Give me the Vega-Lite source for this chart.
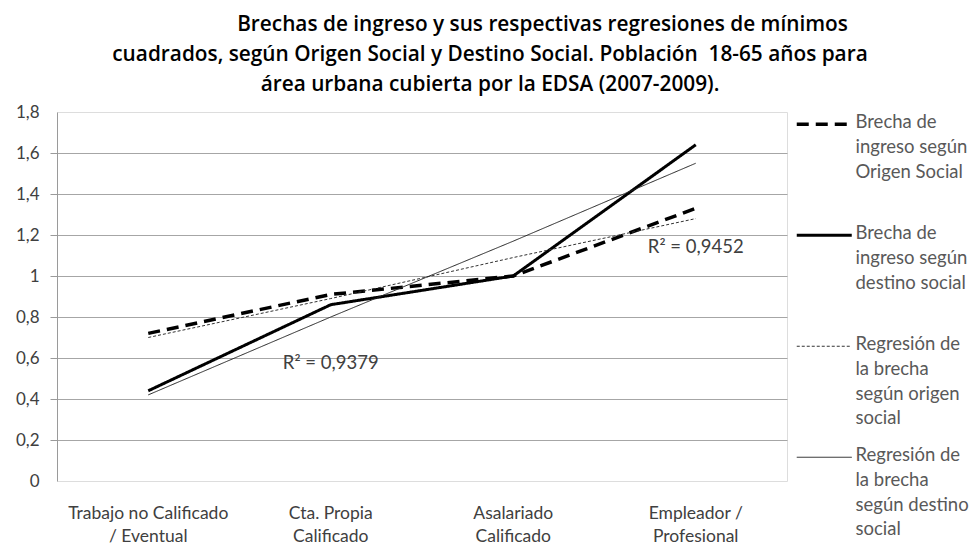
{
  "$schema": "https://vega.github.io/schema/vega-lite/v6.json",
  "width": 730,
  "height": 369,
  "autosize": {"type": "none"},
  "padding": {"left": 57, "top": 112, "right": 185, "bottom": 64},
  "background": "white",
  "title": {
    "text": [
      "\u2800\u2800\u2800\u2800\u2800\u2800\u2800Brechas de ingreso y sus respectivas regresiones de mínimos",
      "cuadrados, según Origen Social y Destino Social. Población\u00a0 18-65 años para",
      "área urbana cubierta por la EDSA (2007-2009)."
    ],
    "font": "Open Sans",
    "fontSize": 20.8,
    "fontWeight": 600,
    "color": "#000000",
    "lineHeight": 30,
    "anchor": "middle",
    "dx": 68,
    "offset": 7
  },
  "datasets": {
    "series": [
      {"categoria": "Trabajo no Calificado / Eventual", "serie": "Brecha de ingreso según Origen Social", "valor": 0.72},
      {"categoria": "Cta. Propia Calificado", "serie": "Brecha de ingreso según Origen Social", "valor": 0.91},
      {"categoria": "Asalariado Calificado", "serie": "Brecha de ingreso según Origen Social", "valor": 1.0},
      {"categoria": "Empleador / Profesional", "serie": "Brecha de ingreso según Origen Social", "valor": 1.33},
      {"categoria": "Trabajo no Calificado / Eventual", "serie": "Brecha de ingreso según destino social", "valor": 0.44},
      {"categoria": "Cta. Propia Calificado", "serie": "Brecha de ingreso según destino social", "valor": 0.86},
      {"categoria": "Asalariado Calificado", "serie": "Brecha de ingreso según destino social", "valor": 1.0},
      {"categoria": "Empleador / Profesional", "serie": "Brecha de ingreso según destino social", "valor": 1.64},
      {"categoria": "Trabajo no Calificado / Eventual", "serie": "Regresión de la brecha según origen social", "valor": 0.70},
      {"categoria": "Cta. Propia Calificado", "serie": "Regresión de la brecha según origen social", "valor": 0.89},
      {"categoria": "Asalariado Calificado", "serie": "Regresión de la brecha según origen social", "valor": 1.09},
      {"categoria": "Empleador / Profesional", "serie": "Regresión de la brecha según origen social", "valor": 1.28},
      {"categoria": "Trabajo no Calificado / Eventual", "serie": "Regresión de la brecha según destino social", "valor": 0.42},
      {"categoria": "Cta. Propia Calificado", "serie": "Regresión de la brecha según destino social", "valor": 0.80},
      {"categoria": "Asalariado Calificado", "serie": "Regresión de la brecha según destino social", "valor": 1.17},
      {"categoria": "Empleador / Profesional", "serie": "Regresión de la brecha según destino social", "valor": 1.55}
    ],
    "r2": [
      {"categoria": "Cta. Propia Calificado", "valor": 0.575, "texto": "R² = 0,9379"},
      {"categoria": "Empleador / Profesional", "valor": 1.14, "texto": "R² = 0,9452"}
    ]
  },
  "encoding": {
    "x": {
      "field": "categoria",
      "type": "nominal",
      "sort": ["Trabajo no Calificado / Eventual", "Cta. Propia Calificado", "Asalariado Calificado", "Empleador / Profesional"],
      "scale": {"type": "band", "paddingInner": 0, "paddingOuter": 0},
      "axis": {
        "title": null,
        "domain": false,
        "ticks": false,
        "grid": false,
        "labelAngle": 0,
        "labelFont": "Lato",
        "labelFontSize": 17.5,
        "labelColor": "#404040",
        "labelPadding": 23,
        "labelBaseline": "top",
        "labelLineHeight": 23,
        "labelLimit": 0,
        "labelExpr": "datum.label == 'Trabajo no Calificado / Eventual' ? ['Trabajo no Calificado', '/ Eventual'] : datum.label == 'Cta. Propia Calificado' ? ['Cta. Propia', 'Calificado'] : datum.label == 'Asalariado Calificado' ? ['Asalariado', 'Calificado'] : ['Empleador /', 'Profesional']"
      }
    },
    "y": {
      "field": "valor",
      "type": "quantitative",
      "scale": {"domain": [0, 1.8], "nice": false, "zero": true},
      "axis": {
        "title": null,
        "values": [0, 0.2, 0.4, 0.6, 0.8, 1, 1.2, 1.4, 1.6, 1.8],
        "labelExpr": "replace(toString(datum.value), '.', ',')",
        "labelFont": "Lato",
        "labelFontSize": 17,
        "labelColor": "#404040",
        "labelPadding": 11,
        "tickSize": 7,
        "tickColor": {"condition": {"test": "datum.value == 0 || datum.value == 1.8", "value": "transparent"}, "value": "#9a9a9a"},
        "domainColor": "#9a9a9a",
        "grid": true,
        "gridColor": {"condition": {"test": "datum.value == 0 || datum.value == 1.8", "value": "transparent"}, "value": "#a6a6a6"},
        "gridWidth": 1
      }
    }
  },
  "layer": [
    {
      "data": {"name": "series"},
      "mark": {"type": "line", "strokeCap": "butt"},
      "encoding": {
        "color": {
          "field": "serie",
          "type": "nominal",
          "scale": {
            "domain": ["Brecha de ingreso según Origen Social", "Brecha de ingreso según destino social", "Regresión de la brecha según origen social", "Regresión de la brecha según destino social"],
            "range": ["#000000", "#000000", "#333333", "#222222"]
          },
          "legend": {
            "title": null,
            "orient": "none",
            "legendX": 736,
            "legendY": 3,
            "padding": 0,
            "symbolType": "M-5,0H5",
            "symbolSize": 121,
            "symbolOffset": 22,
            "labelOffset": 22,
            "labelFont": "Lato",
            "labelFontSize": 18.5,
            "labelColor": "#595959",
            "labelLimit": 0,
            "labelBaseline": "top",
            "rowPadding": 18,
            "labelExpr": "datum.label == 'Brecha de ingreso según Origen Social' ? ['Brecha de', 'ingreso según', 'Origen Social', ''] : datum.label == 'Brecha de ingreso según destino social' ? ['Brecha de', 'ingreso según', 'destino social', ''] : datum.label == 'Regresión de la brecha según origen social' ? ['Regresión de', 'la brecha', 'según origen', 'social'] : ['Regresión de', 'la brecha', 'según destino', 'social']",
            "encode": {
              "labels": {"update": {"lineHeight": {"value": 24.7}, "dy": {"value": -11}}}
            }
          }
        },
        "strokeDash": {
          "field": "serie",
          "type": "nominal",
          "scale": {
            "domain": ["Brecha de ingreso según Origen Social", "Brecha de ingreso según destino social", "Regresión de la brecha según origen social", "Regresión de la brecha según destino social"],
            "range": [[12, 7], [1, 0], [3, 2], [1, 0]]
          },
          "legend": null
        },
        "strokeWidth": {
          "field": "serie",
          "type": "nominal",
          "scale": {
            "type": "ordinal",
            "domain": ["Brecha de ingreso según Origen Social", "Brecha de ingreso según destino social", "Regresión de la brecha según origen social", "Regresión de la brecha según destino social"],
            "range": [3.5, 3, 1, 1]
          },
          "legend": null
        }
      }
    },
    {
      "data": {"name": "r2"},
      "mark": {"type": "text", "font": "Lato", "fontSize": 18.5, "color": "#404040", "align": "center", "baseline": "middle"},
      "encoding": {
        "text": {"field": "texto", "type": "nominal"}
      }
    }
  ]
}
